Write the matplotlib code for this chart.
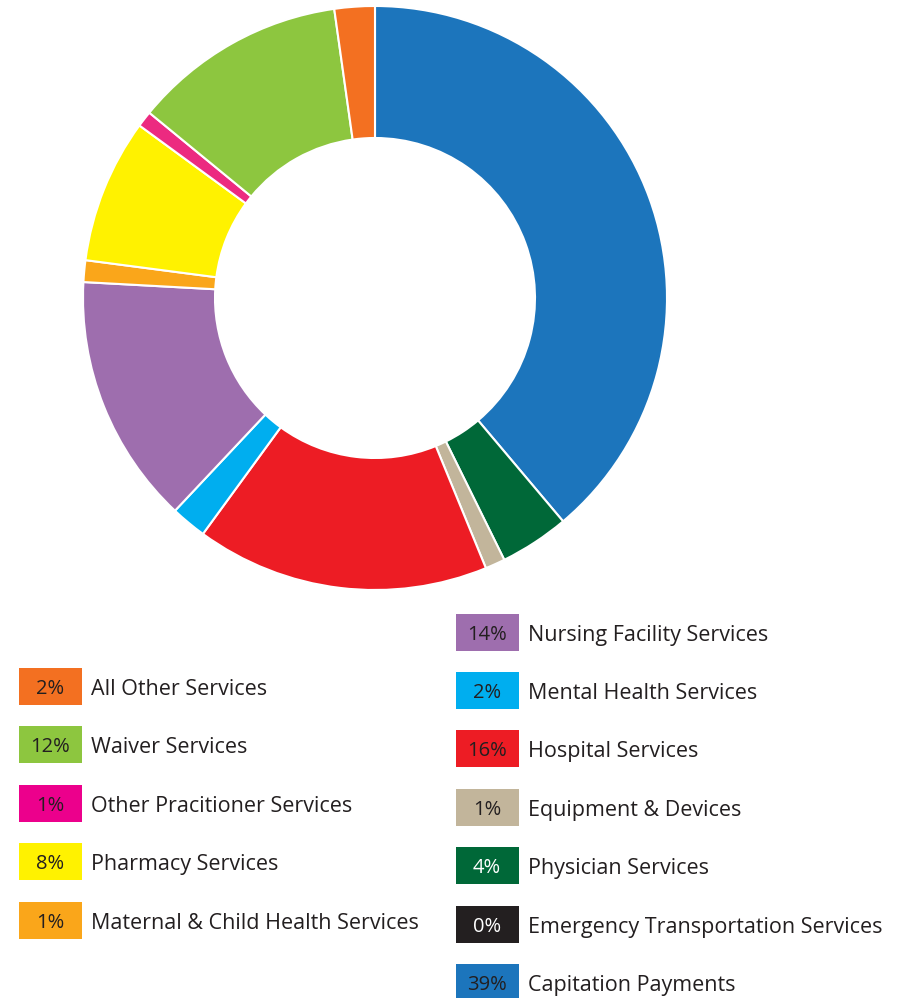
import matplotlib
matplotlib.use("Agg")
import matplotlib.pyplot as plt
from matplotlib.patches import Rectangle

# Slices in drawing order (clockwise from 12 o'clock)
categories = ["Capitation Payments", "Emergency Transportation Services", "Physician Services",
              "Equipment & Devices", "Hospital Services", "Mental Health Services",
              "Nursing Facility Services", "Maternal & Child Health Services", "Pharmacy Services",
              "Other Pracitioner Services", "Waiver Services", "All Other Services"]
values = [38.86, 0.0, 3.84, 1.10, 16.23, 1.98, 13.86, 1.20, 7.99, 0.88, 11.83, 2.23]
pct_labels = ["39%", "0%", "4%", "1%", "16%", "2%", "14%", "1%", "8%", "1%", "12%", "2%"]
colors = ["#1c75bc", "#231f20", "#006838", "#c2b59b", "#ed1c24", "#00aeef",
          "#9e6eae", "#faa61a", "#fff200", "#ec2a80", "#8dc63f", "#f37021"]
legend_colors = dict(zip(categories, colors))
legend_colors["Other Pracitioner Services"] = "#ec008c"
white_text = {"Physician Services", "Emergency Transportation Services"}

left_col = ["All Other Services", "Waiver Services", "Other Pracitioner Services",
            "Pharmacy Services", "Maternal & Child Health Services"]
right_col = ["Nursing Facility Services", "Mental Health Services", "Hospital Services",
             "Equipment & Devices", "Physician Services", "Emergency Transportation Services",
             "Capitation Payments"]

FONT = ["Open Sans", "DejaVu Sans"]
TXT = "#231f20"

W, H = 900, 998
fig = plt.figure(figsize=(W / 100, H / 100), dpi=100)

# Donut
cx, cy, R = 375, 298, 292
ax = fig.add_axes([(cx - R) / W, (H - cy - R) / H, 2 * R / W, 2 * R / H])
nz = [(v, c) for v, c in zip(values, colors) if v > 0]
ax.pie([v for v, _ in nz], colors=[c for _, c in nz], startangle=90, counterclock=False,
       radius=1.0, wedgeprops=dict(width=132 / 292, edgecolor="white", linewidth=1.5))
ax.set_xlim(-1.0, 1.0)
ax.set_ylim(-1.0, 1.0)
ax.set_aspect("equal")
ax.axis("off")

# Legend
lax = fig.add_axes([0, 0, 1, 1])
lax.set_xlim(0, W)
lax.set_ylim(H, 0)
lax.axis("off")

pct_of = dict(zip(categories, pct_labels))

def draw_col(items, x0, y_first, step):
    for i, name in enumerate(items):
        yc = y_first + i * step
        col = legend_colors[name]
        lax.add_patch(Rectangle((x0, yc - 18.5), 63, 37, facecolor=col, edgecolor="none"))
        lax.text(x0 + 31, yc + 2.5, pct_of[name], ha="center", va="center",
                 fontsize=14.5, family=FONT,
                 color="white" if name in white_text else TXT)
        lax.text(x0 + 72, yc + 3, name, ha="left", va="center", fontsize=15.5,
                 family=FONT, color=TXT)

draw_col(left_col, 19, 686.5, 58.4)
draw_col(right_col, 456, 632, 58.4)

fig.savefig("out.png", dpi=100, facecolor="white")
